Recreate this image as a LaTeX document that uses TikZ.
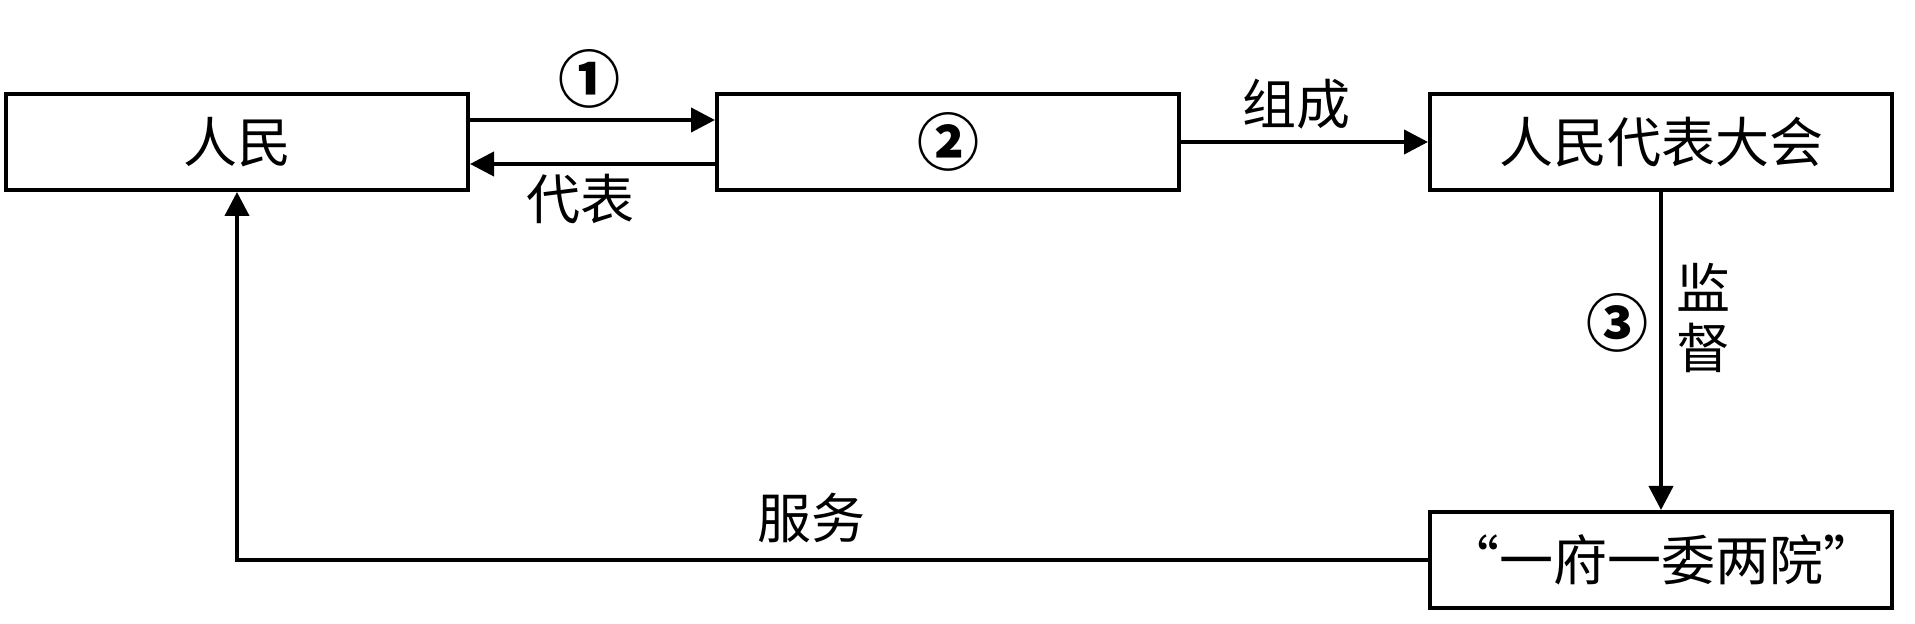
\documentclass[tikz,border=0pt]{standalone}
\usepackage{fontspec}
\setmainfont{Noto Sans CJK SC}
\usetikzlibrary{arrows.meta}

\begin{document}
\begin{tikzpicture}[x=0.5pt,y=-0.5pt,
    box/.style={draw, line width=2pt, minimum width=231pt, minimum height=48pt, inner sep=0pt},
    link/.style={line width=2pt, -{Triangle[length=12pt,width=12pt]}},
    num/.style={font=\fontsize{31}{34}\selectfont\bfseries},
    font=\fontsize{27}{30}\selectfont]
    \useasboundingbox (0,0) rectangle (1915,624);
    % boxes
    \node[box] (renmin) at (237,142) {人民};
    \node[box, num] (daibiao) at (948,142) {②};
    \node[box] (renda) at (1661,142) {人民代表大会};
    \node[box] (yifu) at (1661,560) {“一府一委两院”};
    % arrows
    \draw[link] ([yshift=11pt]renmin.east) -- ([yshift=11pt]daibiao.west);
    \draw[link] ([yshift=-11pt]daibiao.west) -- ([yshift=-11pt]renmin.east);
    \draw[link] (daibiao) -- (renda);
    \draw[link] (renda) -- (yifu);
    \draw[link] (yifu.west) -| (renmin.south);
    % labels
    \node[num] (l1) at (589,79) {①};
    \node (l2) at (580,199) {代表};
    \node (l3) at (1296,104) {组成};
    \node[num] (l4) at (1617,323) {③};
    \node (l5) at (1703,287) {监};
    \node (l6) at (1703,348) {督};
    \node (l7) at (811,518) {服务};
\end{tikzpicture}
\end{document}
